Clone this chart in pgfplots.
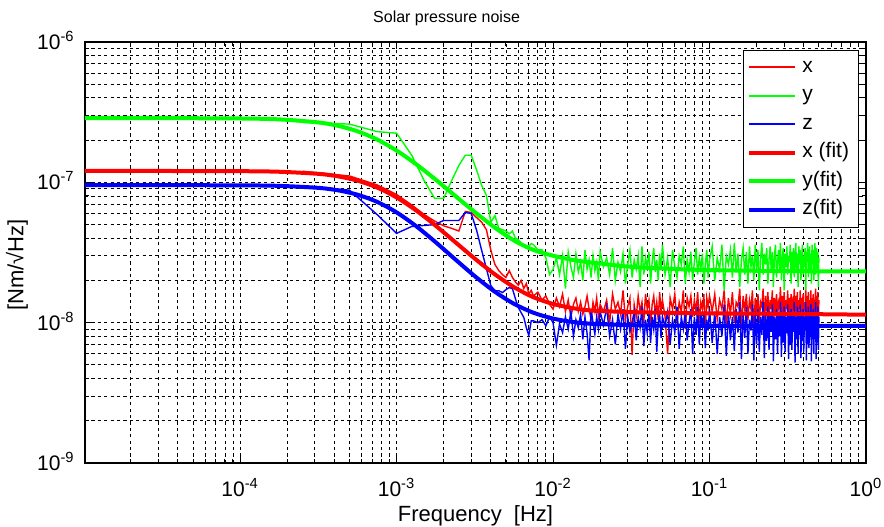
\documentclass[border=0pt]{standalone}
\usepackage{fontspec}
\setmainfont{Liberation Sans}
\usepackage{pgfplots}
\pgfplotsset{compat=1.18}
\usepackage{pgfplotstable}
\definecolor{mred}{RGB}{255,0,0}
\definecolor{mgreen}{RGB}{0,255,0}
\definecolor{mblue}{RGB}{0,0,255}

\pgfplotstableread{
f x y z
2.5e-4 1.20e-7 2.68e-7 9.4e-8
5.0e-4 1.11e-7 2.60e-7 8.8e-8
7.5e-4 9.6e-8 2.30e-7 5.9e-8
1.0e-3 8.2e-8 2.24e-7 4.33e-8
1.25e-3 6.9e-8 1.56e-7 4.85e-8
1.5e-3 5.9e-8 1.03e-7 4.93e-8
1.75e-3 5.3e-8 7.7e-8 5.0e-8
2.0e-3 4.9e-8 7.7e-8 5.35e-8
2.25e-3 4.7e-8 1.03e-7 5.35e-8
2.5e-3 4.5e-8 1.32e-7 5.35e-8
2.75e-3 6.2e-8 1.56e-7 6.1e-8
3.0e-3 6.1e-8 1.56e-7 6.0e-8
3.25e-3 5.6e-8 1.22e-7 4.54e-8
3.5e-3 5.2e-8 9.5e-8 3.27e-8
3.75e-3 4.6e-8 8.1e-8 2.43e-8
4.0e-3 3.3e-8 5.2e-8 1.84e-8
4.25e-3 2.6e-8 5.8e-8 1.69e-8
4.5e-3 2.35e-8 4.7e-8 1.69e-8
4.75e-3 2.2e-8 4.6e-8 1.64e-8
5.0e-3 2.1e-8 4.5e-8 1.72e-8
5.25e-3 2.35e-8 4.3e-8 1.78e-8
5.5e-3 2.1e-8 4.5e-8 1.75e-8
5.75e-3 1.95e-8 4.0e-8 1.48e-8
6.0e-3 1.85e-8 3.9e-8 1.28e-8
6.25e-3 2.0e-8 3.7e-8 1.18e-8
6.5e-3 1.75e-8 3.6e-8 1.09e-8
6.75e-3 1.9e-8 3.4e-8 9.2e-9
7.0e-3 1.6e-8 3.5e-8 8.1e-9
7.25e-3 1.7e-8 3.66e-8 1.03e-8
7.5e-3 1.55e-8 3.6e-8 1.03e-8
8.0e-3 1.65e-8 3.3e-8 1.0e-8
8.5e-3 1.45e-8 3.3e-8 1.05e-8
9.0e-3 1.55e-8 2.9e-8 9.5e-9
9.5e-3 1.35e-8 2.2e-8 1.1e-8
0.0100 1.25e-8 2.4e-8 1.0e-8
0.0105 1.5e-8 2.9e-8 6.9e-9
0.0110 1.3e-8 2.2e-8 9.8e-9
0.0115 1.6e-8 3.0e-8 8.5e-9
0.0120 1.2e-8 1.75e-8 1.1e-8
0.0125 1.45e-8 3.2e-8 9.0e-9
0.0130 1.1e-8 2.5e-8 1.2e-8
0.0135 1.35e-8 2.1e-8 8.0e-9
0.0140 1.5e-8 3.1e-8 1.05e-8
0.0145 1.2e-8 2.3e-8 9.2e-9
0.0150 1.4e-8 2.7e-8 1.15e-8
0.0155 1.15e-8 2.0e-8 7.6e-9
0.0160 1.3e-8 3.3e-8 1.1e-8
0.0165 1.55e-8 2.4e-8 8.4e-9
0.0170 1.25e-8 2.8e-8 5.4e-9
0.0175 1.05e-8 2.1e-8 1.25e-8
0.0180 1.4e-8 3.0e-8 1.0e-8
0.0185 1.2e-8 2.35e-8 8.3e-9
0.0190 1.5e-8 2.7e-8 1.1e-8
0.0195 1.1e-8 2.0e-8 9.0e-9
0.0200 1.35e-8 3.2e-8 1.2e-8
0.021 1.2e-8 2.5e-8 9.6e-9
0.022 1.45e-8 2.9e-8 1.3e-8
0.023 1.0e-8 2.2e-8 8.0e-9
0.024 1.6e-8 3.4e-8 1.05e-8
0.025 1.25e-8 2.0e-8 7.0e-9
0.026 1.4e-8 2.7e-8 1.15e-8
0.027 1.15e-8 2.3e-8 9.0e-9
0.028 1.7e-8 3.1e-8 1.25e-8
0.029 1.05e-8 1.9e-8 6.5e-9
0.030 1.3e-8 2.6e-8 1.1e-8
0.031 1.5e-8 3.3e-8 8.6e-9
0.032 5.9e-9 2.1e-8 1.0e-8
0.033 1.35e-8 2.8e-8 1.2e-8
0.034 1.1e-8 2.4e-8 7.5e-9
0.035 1.55e-8 3.0e-8 1.1e-8
0.036 1.2e-8 1.8e-8 9.2e-9
0.037 1.4e-8 3.5e-8 1.3e-8
0.038 1.0e-8 2.2e-8 6.8e-9
0.039 1.6e-8 2.9e-8 1.05e-8
0.040 1.25e-8 2.5e-8 8.4e-9
0.041 1.45e-8 3.2e-8 1.2e-8
0.042 9.5e-9 1.9e-8 7.2e-9
0.043 1.35e-8 2.7e-8 1.1e-8
0.044 1.55e-8 3.4e-8 9.0e-9
0.045 1.15e-8 2.3e-8 1.25e-8
0.046 1.4e-8 2.8e-8 6.2e-9
0.047 1.05e-8 2.0e-8 1.0e-8
0.048 1.65e-8 3.1e-8 1.15e-8
0.049 1.2e-8 2.4e-8 7.8e-9
0.050 1.45e-8 3.6e-8 1.1e-8
0.052 1.1e-8 2.2e-8 9.5e-9
0.054 6.0e-9 2.9e-8 1.2e-8
0.056 1.5e-8 1.8e-8 7.0e-9
0.058 1.25e-8 3.3e-8 1.05e-8
0.060 1.6e-8 2.5e-8 8.5e-9
0.062 1.0e-8 2.1e-8 1.3e-8
0.064 1.4e-8 3.0e-8 6.5e-9
0.066 1.2e-8 2.6e-8 1.1e-8
0.068 1.7e-8 3.5e-8 9.0e-9
0.070 9.0e-9 1.9e-8 1.2e-8
0.072 1.5e-8 2.8e-8 7.5e-9
0.074 1.3e-8 2.3e-8 1.0e-8
0.076 1.55e-8 3.2e-8 1.25e-8
0.078 1.1e-8 2.0e-8 6.0e-9
0.080 1.45e-8 2.7e-8 1.1e-8
0.082 1.2e-8 3.4e-8 8.2e-9
0.084 1.65e-8 2.2e-8 1.3e-8
0.086 1.0e-8 2.9e-8 7.0e-9
0.088 1.4e-8 2.4e-8 1.15e-8
0.090 1.25e-8 3.1e-8 9.5e-9
0.092 1.6e-8 1.9e-8 1.2e-8
0.094 8.5e-9 2.6e-8 6.6e-9
0.096 1.5e-8 3.3e-8 1.05e-8
0.098 1.3e-8 2.1e-8 8.8e-9
0.100 1.55e-8 2.8e-8 1.25e-8
0.104 1.2e-8 3.5e-8 7.2e-9
0.108 1.6e-8 2.0e-8 1.2e-8
0.112 1.05e-8 2.9e-8 6.0e-9
0.116 1.45e-8 2.4e-8 1.1e-8
0.120 1.25e-8 3.6e-8 8.0e-9
0.124 1.7e-8 1.7e-8 1.35e-8
0.128 9.5e-9 3.0e-8 5.8e-9
0.132 1.5e-8 2.6e-8 1.2e-8
0.136 1.15e-8 3.3e-8 7.5e-9
0.140 1.65e-8 2.1e-8 1.1e-8
0.144 1.0e-8 3.7e-8 6.3e-9
0.148 1.4e-8 2.3e-8 1.25e-8
0.152 1.3e-8 3.1e-8 8.5e-9
0.156 1.75e-8 1.8e-8 1.4e-8
0.160 9.0e-9 2.8e-8 5.5e-9
0.164 1.55e-8 3.4e-8 1.15e-8
0.168 1.2e-8 2.2e-8 7.8e-9
0.172 1.6e-8 3.2e-8 1.3e-8
0.176 1.05e-8 1.9e-8 6.0e-9
0.180 1.45e-8 3.5e-8 1.05e-8
0.184 1.25e-8 2.5e-8 8.8e-9
0.188 1.7e-8 3.0e-8 1.35e-8
0.192 8.8e-9 2.0e-8 5.4e-9
0.196 1.5e-8 3.6e-8 1.2e-8
0.200 1.15e-8 2.4e-8 7.0e-9
0.204 1.6e-8 3.3e-8 1.25e-8
0.208 1.0e-8 1.7e-8 6.2e-9
0.212 1.4e-8 2.9e-8 1.1e-8
0.216 1.3e-8 3.7e-8 8.2e-9
0.220 1.75e-8 2.2e-8 1.4e-8
0.224 9.5e-9 3.1e-8 5.6e-9
0.228 1.55e-8 2.6e-8 1.15e-8
0.232 1.2e-8 3.4e-8 7.4e-9
0.236 1.65e-8 1.9e-8 1.3e-8
0.240 1.05e-8 2.8e-8 6.4e-9
0.244 1.45e-8 3.5e-8 1.2e-8
0.248 1.25e-8 2.3e-8 8.6e-9
0.252 1.7e-8 3.2e-8 1.35e-8
0.256 9.2e-9 1.8e-8 5.3e-9
0.260 1.5e-8 3.0e-8 1.1e-8
0.264 1.15e-8 3.6e-8 7.6e-9
0.268 1.6e-8 2.1e-8 1.25e-8
0.272 1.05e-8 2.7e-8 6.0e-9
0.276 1.4e-8 3.3e-8 1.15e-8
0.280 1.3e-8 2.4e-8 8.0e-9
0.284 1.8e-8 3.7e-8 1.4e-8
0.288 9.0e-9 2.0e-8 5.7e-9
0.292 1.55e-8 2.9e-8 1.2e-8
0.296 1.2e-8 3.4e-8 7.2e-9
0.300 1.65e-8 1.7e-8 1.3e-8
0.304 1.0e-8 3.1e-8 6.2e-9
0.308 1.45e-8 2.5e-8 1.1e-8
0.312 1.25e-8 3.5e-8 8.4e-9
0.316 1.7e-8 2.2e-8 1.35e-8
0.320 9.4e-9 3.0e-8 5.5e-9
0.324 1.5e-8 2.7e-8 1.2e-8
0.328 1.15e-8 3.6e-8 7.0e-9
0.332 1.6e-8 1.9e-8 1.25e-8
0.336 1.05e-8 3.2e-8 6.4e-9
0.340 1.4e-8 2.4e-8 1.15e-8
0.344 1.3e-8 3.4e-8 8.6e-9
0.348 1.75e-8 2.1e-8 1.4e-8
0.352 8.8e-9 2.9e-8 5.2e-9
0.356 1.55e-8 3.7e-8 1.1e-8
0.360 1.2e-8 2.3e-8 7.6e-9
0.364 1.65e-8 3.1e-8 1.3e-8
0.368 1.0e-8 1.8e-8 6.0e-9
0.372 1.45e-8 3.5e-8 1.2e-8
0.376 1.25e-8 2.6e-8 8.2e-9
0.380 1.7e-8 3.3e-8 1.35e-8
0.384 9.2e-9 2.0e-8 5.6e-9
0.388 1.5e-8 2.8e-8 1.15e-8
0.392 1.15e-8 3.6e-8 7.4e-9
0.396 1.6e-8 2.2e-8 1.25e-8
0.400 1.05e-8 3.0e-8 6.2e-9
0.404 1.4e-8 2.5e-8 1.1e-8
0.408 1.3e-8 3.4e-8 8.8e-9
0.412 1.8e-8 1.7e-8 1.4e-8
0.416 9.0e-9 3.2e-8 5.4e-9
0.420 1.55e-8 2.7e-8 1.2e-8
0.424 1.2e-8 3.7e-8 7.0e-9
0.428 1.65e-8 2.1e-8 1.3e-8
0.432 1.0e-8 2.9e-8 6.6e-9
0.436 1.45e-8 3.5e-8 1.15e-8
0.440 1.25e-8 2.3e-8 8.0e-9
0.444 1.7e-8 3.1e-8 1.35e-8
0.448 9.4e-9 1.9e-8 5.3e-9
0.452 1.5e-8 3.6e-8 1.2e-8
0.456 1.15e-8 2.6e-8 7.6e-9
0.460 1.6e-8 3.3e-8 1.25e-8
0.464 1.05e-8 2.0e-8 6.0e-9
0.468 1.4e-8 3.0e-8 1.1e-8
0.472 1.3e-8 3.7e-8 8.4e-9
0.476 1.75e-8 2.2e-8 1.4e-8
0.480 8.8e-9 2.8e-8 5.5e-9
0.484 1.55e-8 3.4e-8 1.15e-8
0.488 1.2e-8 2.4e-8 7.2e-9
0.492 1.65e-8 3.2e-8 1.3e-8
0.496 1.0e-8 1.8e-8 6.4e-9
0.500 1.45e-8 2.9e-8 1.1e-8
}\datatab

\pgfplotstableread{
f x y z
1.0e-5 1.205e-7 2.870e-7 9.547e-8
3.162e-5 1.205e-7 2.868e-7 9.547e-8
1.0e-4 1.201e-7 2.852e-7 9.52e-8
1.778e-4 1.190e-7 2.810e-7 9.439e-8
3.162e-4 1.150e-7 2.673e-7 9.136e-8
4.217e-4 1.104e-7 2.529e-7 8.775e-8
5.623e-4 1.029e-7 2.312e-7 8.169e-8
7.499e-4 9.196e-8 2.021e-7 7.264e-8
1.0e-3 7.807e-8 1.685e-7 6.110e-8
1.334e-3 6.306e-8 1.346e-7 4.873e-8
1.778e-3 4.911e-8 1.046e-7 3.745e-8
2.371e-3 3.750e-8 8.006e-8 2.827e-8
3.162e-3 2.862e-8 6.141e-8 2.145e-8
4.217e-3 2.224e-8 4.789e-8 1.672e-8
5.623e-3 1.793e-8 3.854e-8 1.364e-8
7.499e-3 1.518e-8 3.30e-8 1.177e-8
1.0e-2 1.36e-8 3.0e-8 1.07e-8
1.334e-2 1.27e-8 2.8e-8 1.012e-8
1.778e-2 1.22e-8 2.68e-8 9.82e-9
3.162e-2 1.19e-8 2.5e-8 9.6e-9
5.623e-2 1.175e-8 2.42e-8 9.52e-9
1.0e-1 1.165e-8 2.37e-8 9.5e-9
3.162e-1 1.155e-8 2.33e-8 9.5e-9
1.0 1.14e-8 2.32e-8 9.5e-9
}\fittab

\begin{document}
\begin{tikzpicture}
\begin{axis}[
  xmode=log, ymode=log,
  scale only axis, width=390.5pt, height=210.5pt,
  at={(0,0)}, anchor=south west,
  xmin=1.02e-5, xmax=1, ymin=1e-9, ymax=1e-6,
  xtick={1e-4,1e-3,1e-2,1e-1,1},
  xticklabels={10\textsuperscript{-4},10\textsuperscript{-3},10\textsuperscript{-2},10\textsuperscript{-1},10\textsuperscript{0}},
  ytick={1e-9,1e-8,1e-7,1e-6},
  yticklabels={10\textsuperscript{-9},10\textsuperscript{-8},10\textsuperscript{-7},10\textsuperscript{-6}},
  minor xtick={2e-5,3e-5,4e-5,5e-5,6e-5,7e-5,8e-5,9e-5,
               2e-4,3e-4,4e-4,5e-4,6e-4,7e-4,8e-4,9e-4,
               2e-3,3e-3,4e-3,5e-3,6e-3,7e-3,8e-3,9e-3,
               2e-2,3e-2,4e-2,5e-2,6e-2,7e-2,8e-2,9e-2,
               2e-1,3e-1,4e-1,5e-1,6e-1,7e-1,8e-1,9e-1},
  minor ytick={2e-9,3e-9,4e-9,5e-9,6e-9,7e-9,8e-9,9e-9,
               2e-8,3e-8,4e-8,5e-8,6e-8,7e-8,8e-8,9e-8,
               2e-7,3e-7,4e-7,5e-7,6e-7,7e-7,8e-7,9e-7},
  grid=both,
  major grid style={black, line width=0.45pt, dash pattern=on 1.6pt off 1.6pt},
  minor grid style={black, line width=0.45pt, dash pattern=on 1.6pt off 1.6pt},
  axis line style={black, line width=0.55pt},
  tick style={black, line width=0.5pt},
  tick align=inside,
  major tick length=3.5pt, minor tick length=2pt,
  xticklabel style={font=\fontsize{10.5}{12}\selectfont, anchor=base, yshift=-16.5pt, inner sep=0pt},
  yticklabel style={font=\fontsize{10.5}{12}\selectfont, anchor=base east, yshift=-3.7pt, xshift=-5pt, inner sep=0pt},
  every axis title shift=0pt,
  title={Solar pressure noise},
  title style={font=\fontsize{8}{9.6}\selectfont, at={(axis description cs:0.463,1)}, anchor=base, yshift=9.7pt, inner sep=0pt},
  xlabel={Frequency\ \ [Hz]},
  xlabel style={font=\fontsize{11}{13}\selectfont, at={(axis description cs:0.5,0)}, anchor=base, yshift=-29pt, inner sep=0pt},
  ylabel={[Nm/√Hz]},
  ylabel style={font=\fontsize{11}{13}\selectfont, at={(axis description cs:-0.079,0.47)}, anchor=base, inner sep=0pt},
  legend image code/.code={\draw[#1] (0pt,0pt) -- (23pt,0pt);},
  legend cell align=left,
  legend style={at={(rel axis cs:0.8425,0.981)}, anchor=north west, draw=black, fill=white,
    font=\fontsize{10.5}{12}\selectfont, inner xsep=2pt, inner ysep=3.5pt, row sep=4.25pt,
    nodes={inner xsep=2.5pt, inner ysep=0pt, text height=7.5pt, text depth=2.5pt}},
]
\addlegendimage{color=mred, line width=1pt}
\addlegendentry{x}
\addlegendimage{color=mgreen, line width=1pt}
\addlegendentry{y}
\addlegendimage{color=mblue, line width=1pt}
\addlegendentry{z}
\addlegendimage{color=mred, line width=2pt}
\addlegendentry{x (fit)}
\addlegendimage{color=mgreen, line width=2pt}
\addlegendentry{y(fit)}
\addlegendimage{color=mblue, line width=2pt}
\addlegendentry{z(fit)}
\addplot[color=mred, line width=0.7pt, forget plot] table[x=f, y=x] {\datatab};
\addplot[color=mgreen, line width=0.7pt, forget plot] table[x=f, y=y] {\datatab};
\addplot[color=mblue, line width=0.7pt, forget plot] table[x=f, y=z] {\datatab};
\addplot[color=mred, line width=2pt, smooth, forget plot] table[x=f, y=x] {\fittab};
\addplot[color=mgreen, line width=2pt, smooth, forget plot] table[x=f, y=y] {\fittab};
\addplot[color=mblue, line width=2pt, smooth, forget plot] table[x=f, y=z] {\fittab};
\end{axis}
\pgfresetboundingbox
\path (-42.5pt,-31.5pt) rectangle (399.5pt,231.5pt);
\end{tikzpicture}
\end{document}
